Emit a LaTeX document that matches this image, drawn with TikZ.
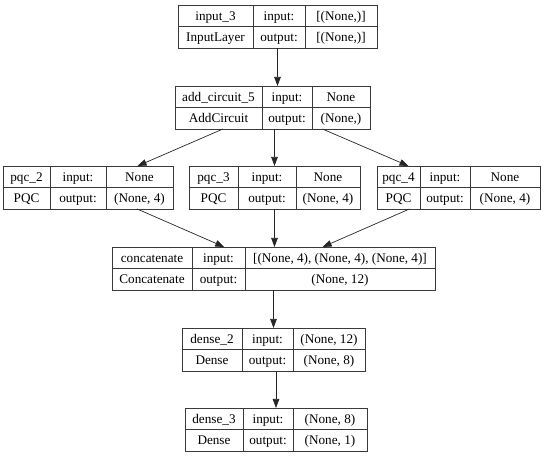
\documentclass[tikz,border=0pt]{standalone}
\usepackage{fontspec}
\setmainfont{Liberation Serif}
\usetikzlibrary{arrows.meta, fit}
\definecolor{cellline}{HTML}{3A3A3A}

% one layer box: id, top left, three column widths, name, type, input, output
\newcommand{\layerbox}[9]{%
  \node[cell, minimum width=#3, anchor=north west] (#1-a) at #2 {#6};
  \node[cell, minimum width=#4, anchor=north west] (#1-b) at (#1-a.north east) {input:};
  \node[cell, minimum width=#5, anchor=north west] (#1-c) at (#1-b.north east) {#8};
  \node[cell, minimum width=#3, anchor=north west] (#1-d) at (#1-a.south west) {#7};
  \node[cell, minimum width=#4, anchor=north west] (#1-e) at (#1-d.north east) {output:};
  \node[cell, minimum width=#5, anchor=north west] (#1-f) at (#1-e.north east) {#9};
  \node[fit=(#1-a)(#1-f), inner sep=0pt, outer sep=0pt] (#1) {};
}

\begin{document}
\begin{tikzpicture}[
    x=1pt, y=-1pt,
    cell/.style={draw=cellline, line width=0.7pt, inner sep=0pt, outer sep=0pt,
                 minimum height=21.5pt, text height=10pt, text depth=0.5pt,
                 font=\fontsize{13.2}{15}\selectfont},
    arrow/.style={draw=black!85, line width=0.7pt,
                  -{Triangle[length=9pt, width=6.5pt]}}
  ]
  \useasboundingbox (0,0) rectangle (550,457);

  \layerbox{input3}{(178,5)}{75pt}{52pt}{72pt}{input\_3}{InputLayer}{[(None,)]}{[(None,)]}
  \layerbox{addcirc}{(175,86)}{87pt}{50pt}{58pt}{add\_circuit\_5}{AddCircuit}{None}{(None,)}
  \layerbox{pqc2}{(3,166)}{47pt}{56pt}{67pt}{pqc\_2}{PQC}{None}{(None, 4)}
  \layerbox{pqc3}{(189,166)}{49pt}{58pt}{64pt}{pqc\_3}{PQC}{None}{(None, 4)}
  \layerbox{pqc4}{(377,166)}{43pt}{50pt}{70pt}{pqc\_4}{PQC}{None}{(None, 4)}
  \layerbox{concat}{(112,247)}{80pt}{53pt}{190pt}{concatenate}{Concatenate}{[(None, 4), (None, 4), (None, 4)]}{(None, 12)}
  \layerbox{dense2}{(182,328)}{60pt}{51pt}{72pt}{dense\_2}{Dense}{(None, 12)}{(None, 8)}
  \layerbox{dense3}{(185,408)}{58pt}{50pt}{74pt}{dense\_3}{Dense}{(None, 8)}{(None, 1)}

  \draw[arrow] (input3.south) -- (input3.south |- addcirc.north);
  \draw[arrow] (addcirc) -- (pqc2);
  \draw[arrow] (pqc3.north |- addcirc.south) -- (pqc3.north);
  \draw[arrow] (addcirc) -- (pqc4);
  \draw[arrow] (pqc2) -- (concat);
  \draw[arrow] (pqc3.south) -- (pqc3.south |- concat.north);
  \draw[arrow] (pqc4) -- (concat);
  \draw[arrow] (concat.south) -- (concat.south |- dense2.north);
  \draw[arrow] (dense3.north |- dense2.south) -- (dense3.north);
\end{tikzpicture}
\end{document}
